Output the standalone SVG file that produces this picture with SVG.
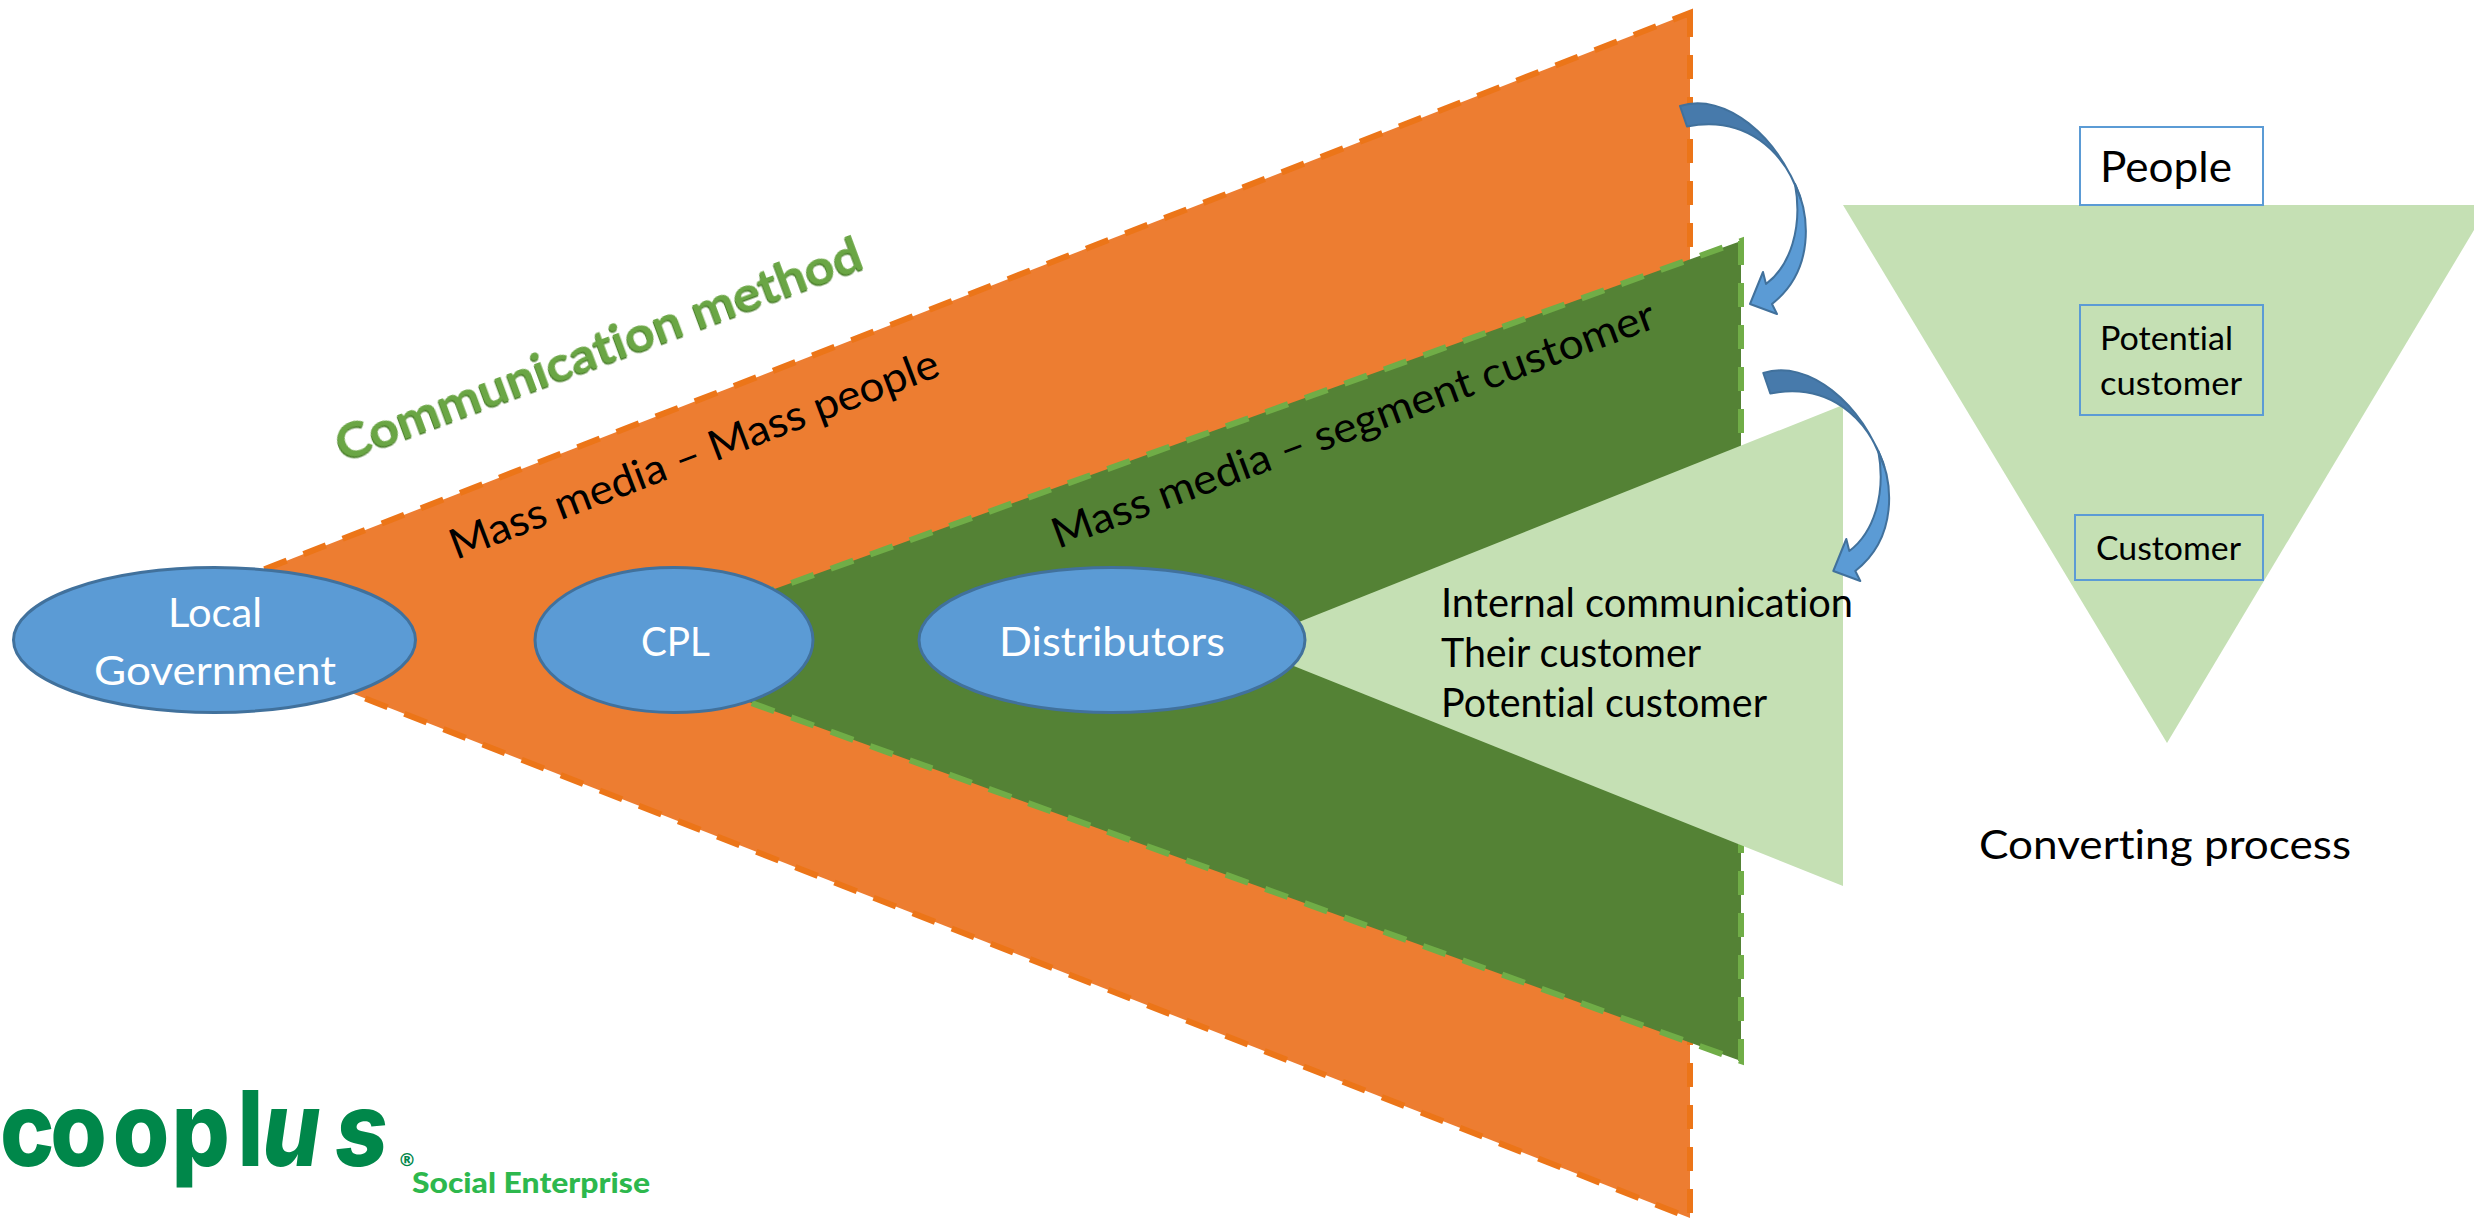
<svg xmlns="http://www.w3.org/2000/svg" width="2474" height="1220" viewBox="0 0 2474 1220">
<style>
text{font-family:"Lato","Open Sans","Liberation Sans",sans-serif;fill:#000;font-variant-ligatures:none}
.n{fill:#5B9BD5;stroke:#41719C;stroke-width:3}
.w{fill:#fff;font-size:41px}
.b{fill:none;stroke:#5B9BD5;stroke-width:2}
.t{font-size:40px}
.r{font-size:42px}
.s{font-size:32.5px}
.o{fill:#ED7D31;stroke:#EC7518;stroke-width:6;stroke-dasharray:24 18}
.g{fill:#548235;stroke:#70AD47;stroke-width:6;stroke-dasharray:24 18}
.l{fill:#C5E0B4}
.a1{fill:#477AAB;stroke:#41719C;stroke-width:2;stroke-linejoin:round}
.a2{fill:#5B9BD5;stroke:#41719C;stroke-width:2;stroke-linejoin:round}
</style>
<defs>
<filter id="bev" x="-5%" y="-20%" width="110%" height="140%"><feDropShadow dx="-1" dy="1.5" stdDeviation="0.4" flood-color="#4A7F2C"/></filter>
<g id="curve">
<path class="a2" d="M1795,184 C1810,215 1815,270 1772,304 L1777,314 L1750,304 L1763,272 L1766,284 C1790,266 1803,228 1795,184 Z"/>
<path class="a1" d="M1680,106 C1725,92 1778,135 1801,200 C1785,150 1745,115 1687,126.5 Z"/>
</g>
</defs>
<g id="orange-triangle"><polygon class="o" points="1690,13 1690,1218 150,614"/></g>
<g id="green-triangle"><polygon class="g" points="1741,241 1741,1061 605,650"/></g>
<g id="light-triangle"><polygon class="l" points="1843,405 1843,886 1241,645"/></g>
<g id="funnel"><polygon class="l" points="1843,205 2489,205 2167,743"/></g>
<g id="connectors">
<use href="#curve"/>
<use href="#curve" transform="translate(83.3,267)"/>
</g>
<g id="local-government"><ellipse class="n" cx="214.5" cy="640" rx="201" ry="72.5"/>
<text class="w" x="168" y="627" textLength="94" lengthAdjust="spacingAndGlyphs">Local</text>
<text class="w" x="94" y="685" textLength="242" lengthAdjust="spacingAndGlyphs">Government</text></g>
<g id="cpl"><ellipse class="n" cx="674" cy="640" rx="139" ry="72.5"/>
<text class="w" x="641" y="656" textLength="69" lengthAdjust="spacingAndGlyphs">CPL</text></g>
<g id="distributors"><ellipse class="n" cx="1112" cy="640" rx="193" ry="72.5"/>
<text class="w" x="999" y="656" textLength="226" lengthAdjust="spacingAndGlyphs">Distributors</text></g>
<g id="labels">
<text x="343" y="462" transform="rotate(-20.4 343 462)" textLength="558" lengthAdjust="spacingAndGlyphs" style="font-size:48px;font-weight:700;fill:#6BA644" filter="url(#bev)">Communication method</text>
<text class="r" x="456" y="560" transform="rotate(-20.8 456 560)" textLength="520" lengthAdjust="spacingAndGlyphs">Mass media – Mass people</text>
<text class="r" x="1058" y="549" transform="rotate(-20.3 1058 549)" textLength="640" lengthAdjust="spacingAndGlyphs">Mass media – segment customer</text>
<text class="t" x="1441" y="617" textLength="412" lengthAdjust="spacingAndGlyphs">Internal communication</text>
<text class="t" x="1441" y="667" textLength="260" lengthAdjust="spacingAndGlyphs">Their customer</text>
<text class="t" x="1441" y="717" textLength="326" lengthAdjust="spacingAndGlyphs">Potential customer</text>
<text class="t" x="1979" y="859" textLength="372" lengthAdjust="spacingAndGlyphs">Converting process</text>
</g>
<g id="people"><rect class="b" x="2080" y="127" width="183" height="78" style="fill:#fff"/>
<text x="2100" y="182" textLength="132" lengthAdjust="spacingAndGlyphs" style="font-size:43px">People</text></g>
<g id="potential-customer"><rect class="b" x="2080" y="305" width="183" height="110"/>
<text class="s" x="2100" y="350" textLength="133" lengthAdjust="spacingAndGlyphs">Potential</text>
<text class="s" x="2100" y="395" textLength="142" lengthAdjust="spacingAndGlyphs">customer</text></g>
<g id="customer"><rect class="b" x="2075" y="515" width="188" height="65"/>
<text class="s" x="2096" y="560" textLength="145" lengthAdjust="spacingAndGlyphs">Customer</text></g>
<g id="logo">
<text transform="scale(.88,1)" x="0 57 128 195 270 298 381" y="1166" style="font-family:Inter,'Liberation Sans',sans-serif;font-size:104px;font-weight:800;fill:#00874A">coopl<tspan font-style="italic">us</tspan></text>
<text x="398" y="1166" style="font-family:'DejaVu Sans',sans-serif;font-size:18px;font-weight:700;fill:#00874A">®</text>
<text x="412" y="1193" textLength="238" lengthAdjust="spacingAndGlyphs" style="font-size:28px;font-weight:900;fill:#2DB84D">Social Enterprise</text>
</g>
</svg>
